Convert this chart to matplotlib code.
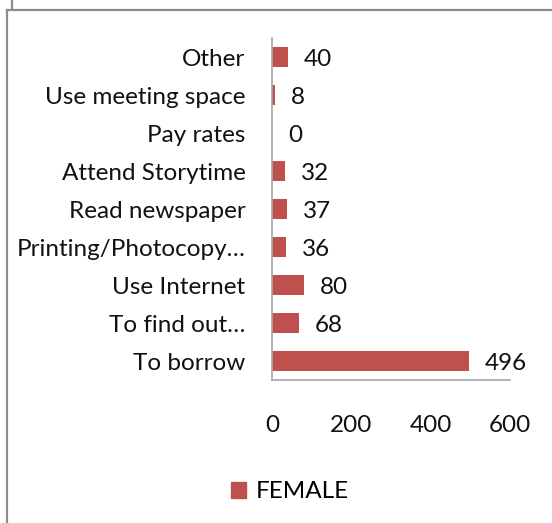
import matplotlib.pyplot as plt
from matplotlib.lines import Line2D
from matplotlib.patches import Patch

# categories listed bottom to top
categories = ["To borrow", "To find out\u2026", "Use Internet", "Printing/Photocopy\u2026",
              "Read newspaper", "Attend Storytime", "Pay rates", "Use meeting space", "Other"]
female = [496, 68, 80, 36, 37, 32, 0, 8, 40]
xticks = [0, 200, 400, 600]
series_name = "FEMALE"

bar_color = "#C0504D"
grey = "#8C8C8C"
plt.rcParams['font.family'] = ['Lato', 'DejaVu Sans']
fs = 17.5

W, H = 552, 523
fig = plt.figure(figsize=(W / 100, H / 100), dpi=100)
ax = fig.add_axes([272 / W, 1 - 380 / H, (510 - 272) / W, (380 - 38) / H])

ypos = list(range(len(categories)))
ax.barh(ypos, female, height=0.54, color=bar_color, zorder=2)
for y, v in zip(ypos, female):
    ax.annotate(str(v), (v, y), xytext=(11.5, -2), textcoords='offset points',
                va='center', ha='left', fontsize=fs, color="#111111")

ax.set_xlim(0, 600)
ax.set_ylim(-0.5, len(categories) - 0.5)
ax.set_xticks(xticks)
ax.set_xticklabels([str(t) for t in xticks])
ax.set_yticks(ypos)
ax.set_yticklabels(categories)
ax.tick_params(axis='x', length=0, pad=25, labelsize=fs, labelcolor="#111111")
ax.tick_params(axis='y', length=0, pad=19, labelsize=fs, labelcolor="#111111")

for side in ['top', 'right']:
    ax.spines[side].set_visible(False)
for side in ['left', 'bottom']:
    ax.spines[side].set_color("#A6A6A6")
    ax.spines[side].set_linewidth(1.2)

# legend
handle = Patch(facecolor=bar_color, edgecolor=bar_color)
fig.legend([handle], [series_name], loc='center', bbox_to_anchor=(290 / W, 1 - 492 / H),
           frameon=False, fontsize=fs, handlelength=0.65, handleheight=0.65, handletextpad=0.4)

# outer frame pieces
fig.add_artist(Line2D([7 / W, 7 / W], [0, 1 - 10 / H], color=grey, lw=1.6))
fig.add_artist(Line2D([7 / W, 1], [1 - 10 / H, 1 - 10 / H], color=grey, lw=1.6))
fig.add_artist(Line2D([11.5 / W, 11.5 / W], [1 - 9 / H, 1], color=grey, lw=1.6))

fig.savefig("out.png", dpi=100)
